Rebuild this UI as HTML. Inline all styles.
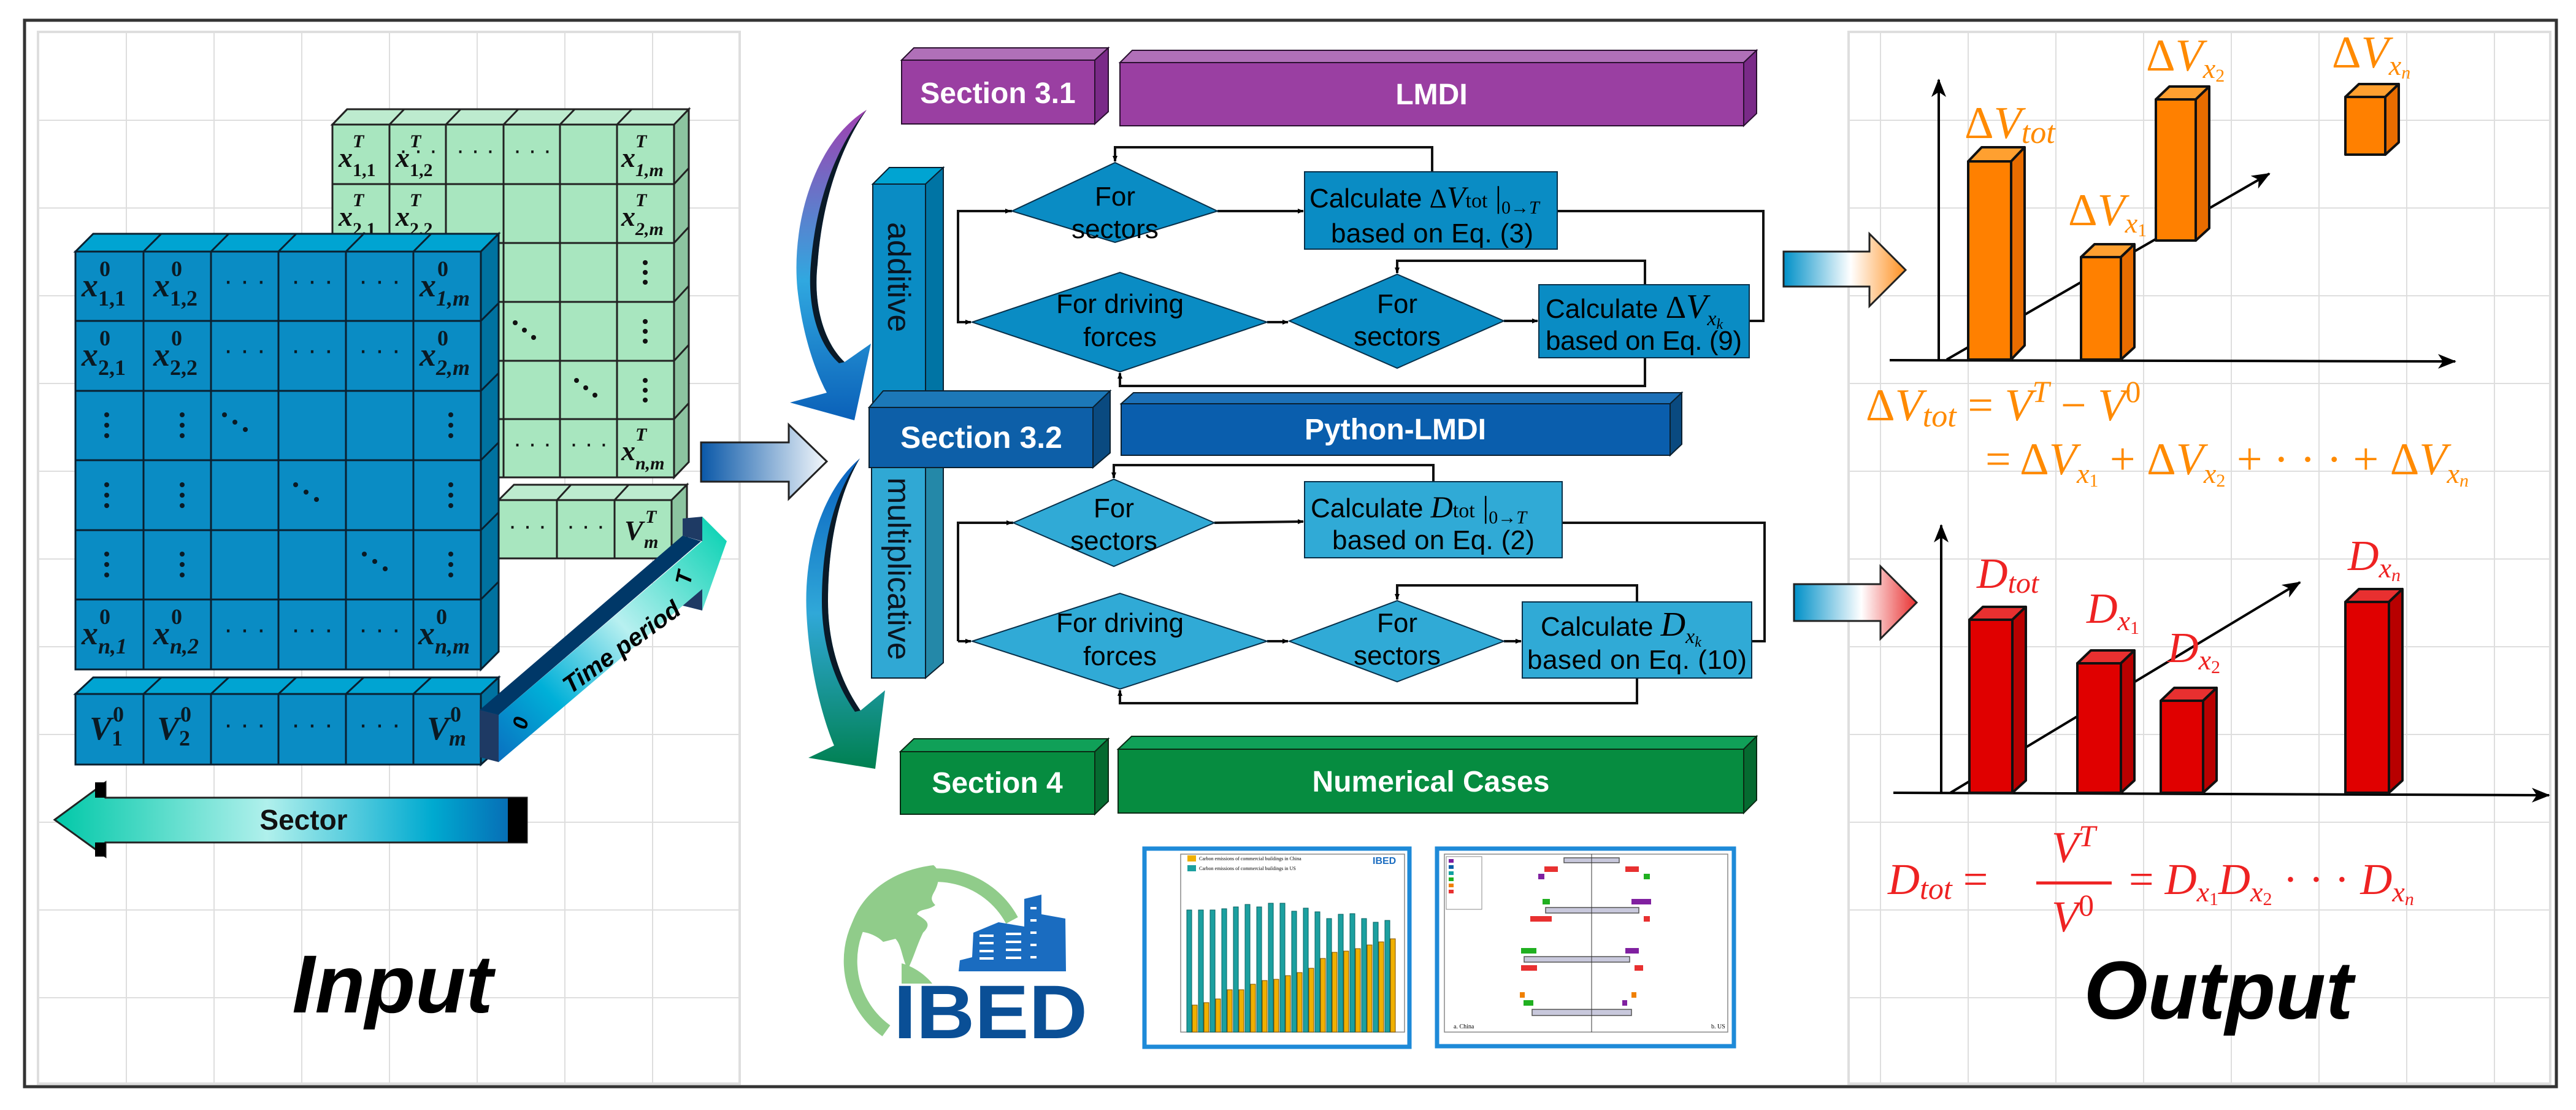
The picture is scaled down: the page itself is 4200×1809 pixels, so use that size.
<!DOCTYPE html>
<html><head><meta charset="utf-8">
<style>
html,body{margin:0;padding:0;background:#fff;}
svg{display:block;}
.m{font-family:"Liberation Serif",serif;font-style:italic;font-weight:bold;}
.up{font-style:normal;}
</style></head>
<body>
<svg width="4200" height="1809" viewBox="0 0 4200 1809" xmlns="http://www.w3.org/2000/svg">
<defs>
<pattern id="grid" x="62" y="52" width="143" height="143" patternUnits="userSpaceOnUse">
<path d="M0,0 H143 M0,0 V143" stroke="#dedede" stroke-width="4" fill="none"/>
</pattern>
<linearGradient id="gTime" x1="0" y1="1" x2="1" y2="0">
<stop offset="0" stop-color="#0a6fc0"/><stop offset="0.25" stop-color="#00b0d8"/><stop offset="0.55" stop-color="#b8f0f0"/><stop offset="1" stop-color="#00d0b0"/>
</linearGradient>
<linearGradient id="gSector" x1="0" y1="0" x2="1" y2="0">
<stop offset="0" stop-color="#00c8a8"/><stop offset="0.45" stop-color="#b0f0ec"/><stop offset="0.8" stop-color="#00aad0"/><stop offset="1" stop-color="#0860b0"/>
</linearGradient>
<linearGradient id="gIn" x1="0" y1="0" x2="1" y2="0">
<stop offset="0" stop-color="#0a58a8"/><stop offset="1" stop-color="#f4f8fc"/>
</linearGradient>
<linearGradient id="gOr" x1="0" y1="0" x2="1" y2="0">
<stop offset="0" stop-color="#0090c8"/><stop offset="0.55" stop-color="#ffffff"/><stop offset="1" stop-color="#ff9020"/>
</linearGradient>
<linearGradient id="gRd" x1="0" y1="0" x2="1" y2="0">
<stop offset="0" stop-color="#0090c8"/><stop offset="0.55" stop-color="#ffffff"/><stop offset="1" stop-color="#e83030"/>
</linearGradient>
<linearGradient id="gCurve1" x1="0" y1="0" x2="0" y2="1">
<stop offset="0" stop-color="#a040b0"/><stop offset="0.55" stop-color="#30a8e0"/><stop offset="1" stop-color="#0a60b8"/>
</linearGradient>
<linearGradient id="gCurve2" x1="0" y1="0" x2="0" y2="1">
<stop offset="0" stop-color="#0860c0"/><stop offset="0.5" stop-color="#30a8d8"/><stop offset="1" stop-color="#008050"/>
</linearGradient>
<marker id="ah" markerWidth="10" markerHeight="10" refX="9" refY="5" orient="auto" markerUnits="userSpaceOnUse">
<path d="M0,1 L10,5 L0,9 z" fill="#000"/>
</marker>
<marker id="ah2" markerWidth="30" markerHeight="24" refX="28" refY="12" orient="auto" markerUnits="userSpaceOnUse">
<path d="M0,0 L30,12 L0,24 L8,12 z" fill="#000"/>
</marker>
</defs>

<rect x="40" y="33" width="4128" height="1738" fill="#fff" stroke="#333" stroke-width="5"/>
<rect x="62" y="52" width="1144" height="1714" fill="url(#grid)" stroke="#dedede" stroke-width="4"/>
<rect x="3014" y="52" width="1144" height="1714" fill="url(#grid)" stroke="#dedede" stroke-width="4"/>

<!-- ===== GREEN MATRIX ===== -->
<g stroke="#222" stroke-width="3">
<polygon points="542,203 566,178 1123,178 1099,203" fill="#bdebcf"/>
<polygon points="1099,203 1123,178 1123,753 1099,778" fill="#8cc4a0"/>
<rect x="542" y="203" width="557" height="575" fill="#a8e6bf"/>
<path d="M635,203V778M727,203V778M821,203V778M913,203V778M1006,203V778M542,300H1099M542,396H1099M542,492H1099M542,588H1099M542,683H1099" fill="none"/>
<path d="M566,178L542,203M659,178L635,203M751,178L727,203M845,178L821,203M937,178L913,203M1030,178L1006,203M1123,274L1099,300M1123,370L1099,396M1123,466L1099,492M1123,562L1099,588M1123,657L1099,683" fill="none"/>
<polygon points="813,815 838,790 1120,790 1095,815" fill="#bdebcf"/>
<polygon points="1095,815 1120,790 1120,885 1095,910" fill="#8cc4a0"/>
<rect x="720" y="815" width="375" height="95" fill="#a8e6bf"/>
<path d="M908,815V910M1002,815V910M931,790L908,815M1025,790L1002,815" fill="none"/>
</g>
<g class="m" font-size="46" fill="#111" font-weight="normal">
<text x="552" y="272">x</text><text x="575" y="240" font-size="30">T</text><text x="575" y="287" font-size="30" class="up">1,1</text>
<text x="645" y="272">x</text><text x="668" y="240" font-size="30">T</text><text x="668" y="287" font-size="30" class="up">1,2</text>
<text x="1013" y="272">x</text><text x="1036" y="240" font-size="30">T</text><text x="1036" y="287" font-size="30">1,m</text>
<text x="552" y="368">x</text><text x="575" y="336" font-size="30">T</text><text x="575" y="383" font-size="30" class="up">2,1</text>
<text x="645" y="368">x</text><text x="668" y="336" font-size="30">T</text><text x="668" y="383" font-size="30" class="up">2,2</text>
<text x="1013" y="368">x</text><text x="1036" y="336" font-size="30">T</text><text x="1036" y="383" font-size="30">2,m</text>
<text x="1013" y="750">x</text><text x="1036" y="718" font-size="30">T</text><text x="1036" y="765" font-size="30">n,m</text>
<text x="1018" y="880">V</text><text x="1052" y="852" font-size="30">T</text><text x="1050" y="893" font-size="30">m</text>
</g>
<g fill="#111" font-family="Liberation Sans" font-size="40" text-anchor="middle">
<text x="682" y="258">· · ·</text><text x="775" y="258">· · ·</text><text x="868" y="258">· · ·</text>
<text x="868" y="736">· · ·</text><text x="960" y="736">· · ·</text>
<text x="860" y="870">· · ·</text><text x="955" y="870">· · ·</text>
</g>
<g fill="#111">
<circle cx="1052" cy="428" r="4"/><circle cx="1052" cy="444" r="4"/><circle cx="1052" cy="460" r="4"/>
<circle cx="1052" cy="524" r="4"/><circle cx="1052" cy="540" r="4"/><circle cx="1052" cy="556" r="4"/>
<circle cx="1052" cy="620" r="4"/><circle cx="1052" cy="636" r="4"/><circle cx="1052" cy="652" r="4"/>
<circle cx="840" cy="526" r="4"/><circle cx="855" cy="538" r="4"/><circle cx="870" cy="550" r="4"/>
<circle cx="940" cy="620" r="4"/><circle cx="955" cy="632" r="4"/><circle cx="970" cy="644" r="4"/>
</g>

<!-- ===== BLUE MATRIX ===== -->
<g stroke="#0a2030" stroke-width="3">
<polygon points="123,410 152,381 813,381 784,410" fill="#00a4d2"/>
<polygon points="784,410 813,381 813,1062 784,1091" fill="#0072a0"/>
<rect x="123" y="410" width="661" height="681" fill="#0a8cc4"/>
<path d="M234,410V1091M344,410V1091M454,410V1091M564,410V1091M674,410V1091M123,523H784M123,637H784M123,750H784M123,864H784M123,977H784" fill="none"/>
<path d="M263,381L234,410M373,381L344,410M483,381L454,410M593,381L564,410M703,381L674,410M813,494L784,523M813,608L784,637M813,721L784,750M813,835L784,864M813,948L784,977" fill="none"/>
<polygon points="123,1131 152,1104 813,1104 784,1131" fill="#00a4d2"/>
<polygon points="784,1131 813,1104 813,1220 784,1246" fill="#0072a0"/>
<rect x="123" y="1131" width="661" height="115" fill="#0a8cc4"/>
<path d="M234,1131V1246M344,1131V1246M454,1131V1246M564,1131V1246M674,1131V1246M263,1104L234,1131M373,1104L344,1131M483,1104L454,1131M593,1104L564,1131M703,1104L674,1131" fill="none"/>
</g>
<g class="m" font-size="54" fill="#0a1a24">
<text x="133" y="483">x</text><text x="162" y="450" font-size="36" class="up">0</text><text x="160" y="498" font-size="36" class="up">1,1</text>
<text x="250" y="483">x</text><text x="279" y="450" font-size="36" class="up">0</text><text x="277" y="498" font-size="36" class="up">1,2</text>
<text x="684" y="483">x</text><text x="713" y="450" font-size="36" class="up">0</text><text x="711" y="498" font-size="36">1,m</text>
<text x="133" y="596">x</text><text x="162" y="563" font-size="36" class="up">0</text><text x="160" y="611" font-size="36" class="up">2,1</text>
<text x="250" y="596">x</text><text x="279" y="563" font-size="36" class="up">0</text><text x="277" y="611" font-size="36" class="up">2,2</text>
<text x="684" y="596">x</text><text x="713" y="563" font-size="36" class="up">0</text><text x="711" y="611" font-size="36">2,m</text>
<text x="133" y="1050">x</text><text x="162" y="1017" font-size="36" class="up">0</text><text x="160" y="1065" font-size="36">n,1</text>
<text x="250" y="1050">x</text><text x="279" y="1017" font-size="36" class="up">0</text><text x="277" y="1065" font-size="36">n,2</text>
<text x="682" y="1050">x</text><text x="711" y="1017" font-size="36" class="up">0</text><text x="709" y="1065" font-size="36">n,m</text>
<text x="146" y="1205">V</text><text x="184" y="1176" font-size="36" class="up">0</text><text x="182" y="1215" font-size="36" class="up">1</text>
<text x="256" y="1205">V</text><text x="294" y="1176" font-size="36" class="up">0</text><text x="292" y="1215" font-size="36" class="up">2</text>
<text x="696" y="1205">V</text><text x="734" y="1176" font-size="36" class="up">0</text><text x="732" y="1215" font-size="36">m</text>
</g>
<g fill="#0a1a24" font-family="Liberation Sans" font-size="44" text-anchor="middle">
<text x="399" y="472">· · ·</text><text x="509" y="472">· · ·</text><text x="619" y="472">· · ·</text>
<text x="399" y="585">· · ·</text><text x="509" y="585">· · ·</text><text x="619" y="585">· · ·</text>
<text x="399" y="1040">· · ·</text><text x="509" y="1040">· · ·</text><text x="619" y="1040">· · ·</text>
<text x="399" y="1195">· · ·</text><text x="509" y="1195">· · ·</text><text x="619" y="1195">· · ·</text>
</g>
<g fill="#0a1a24">
<circle cx="174" cy="676" r="4"/><circle cx="174" cy="693" r="4"/><circle cx="174" cy="710" r="4"/>
<circle cx="174" cy="790" r="4"/><circle cx="174" cy="807" r="4"/><circle cx="174" cy="824" r="4"/>
<circle cx="174" cy="903" r="4"/><circle cx="174" cy="920" r="4"/><circle cx="174" cy="937" r="4"/>
<circle cx="297" cy="676" r="4"/><circle cx="297" cy="693" r="4"/><circle cx="297" cy="710" r="4"/>
<circle cx="297" cy="790" r="4"/><circle cx="297" cy="807" r="4"/><circle cx="297" cy="824" r="4"/>
<circle cx="297" cy="903" r="4"/><circle cx="297" cy="920" r="4"/><circle cx="297" cy="937" r="4"/>
<circle cx="735" cy="676" r="4"/><circle cx="735" cy="693" r="4"/><circle cx="735" cy="710" r="4"/>
<circle cx="735" cy="790" r="4"/><circle cx="735" cy="807" r="4"/><circle cx="735" cy="824" r="4"/>
<circle cx="735" cy="903" r="4"/><circle cx="735" cy="920" r="4"/><circle cx="735" cy="937" r="4"/>
<circle cx="366" cy="676" r="4"/><circle cx="383" cy="688" r="4"/><circle cx="400" cy="700" r="4"/>
<circle cx="482" cy="790" r="4"/><circle cx="499" cy="802" r="4"/><circle cx="516" cy="814" r="4"/>
<circle cx="594" cy="903" r="4"/><circle cx="611" cy="915" r="4"/><circle cx="628" cy="927" r="4"/>
</g>

<!-- Time period arrow -->
<polygon points="782,1157 813,1165 813,1242 782,1234" fill="#1e3a64"/>
<polygon points="782,1157 1113,873 1143,882 813,1165" fill="#003868"/>
<polygon points="1113,845 1145,842 1145,882 1113,873" fill="#1e3a64"/>
<polygon points="1113,987 1145,995 1145,940 1113,960" fill="#1e3a64"/>
<polygon points="813,1165 1145,882 1145,842 1185,882 1145,995 1145,960 813,1242" fill="url(#gTime)"/>
<g font-family="Liberation Sans" font-style="italic" font-weight="bold" fill="#000">
<text x="0" y="0" font-size="34" transform="translate(858,1190) rotate(-78)">0</text>
<text x="0" y="0" font-size="40" transform="translate(930,1132) rotate(-36)">Time period</text>
<text x="0" y="0" font-size="36" transform="translate(1125,955) rotate(-78)">T</text>
</g>

<!-- Sector arrow -->
<polygon points="89,1336 172,1275 172,1300 859,1300 859,1373 172,1373 172,1396" fill="url(#gSector)" stroke="#222" stroke-width="3"/>
<rect x="155" y="1275" width="17" height="25" fill="#000"/>
<rect x="155" y="1373" width="17" height="23" fill="#000"/>
<rect x="828" y="1300" width="31" height="73" fill="#000"/>
<text x="495" y="1352" font-family="Liberation Sans" font-weight="bold" font-size="46" text-anchor="middle" fill="#111">Sector</text>

<text x="640" y="1650" font-family="Liberation Sans" font-style="italic" font-weight="bold" font-size="134" text-anchor="middle" fill="#000">Input</text>

<polygon points="1143,721 1286,721 1286,692 1348,752 1286,813 1286,785 1143,785" fill="url(#gIn)" stroke="#222" stroke-width="3"/>

<!-- curved arrows -->
<path d="M1413,179 C1330,230 1290,360 1300,470 C1310,560 1335,615 1348,640 L1288,656 L1393,685 L1420,560 L1377,590 C1345,560 1325,500 1333,430 C1340,330 1370,240 1413,179 Z" fill="url(#gCurve1)"/>
<path d="M1413,179 C1370,240 1340,330 1333,430 C1325,500 1345,560 1377,590 L1368,592 C1333,560 1316,500 1322,430 C1330,330 1362,240 1413,179 Z" fill="#0a1a28"/>
<path d="M1402,747 C1340,800 1310,900 1315,1000 C1320,1100 1345,1180 1360,1215 L1318,1235 L1427,1253 L1443,1125 L1403,1158 C1370,1110 1350,1050 1350,980 C1350,880 1370,800 1402,747 Z" fill="url(#gCurve2)"/>
<path d="M1402,747 C1370,800 1350,880 1350,980 C1350,1050 1370,1110 1403,1158 L1394,1160 C1360,1110 1340,1050 1340,980 C1340,880 1362,800 1402,747 Z" fill="#0a1a28"/>

<!-- Section boxes -->
<g stroke="#2a1030" stroke-width="2">
<polygon points="1470,98 1490,78 1807,78 1785,98" fill="#b070b8"/>
<polygon points="1785,98 1807,78 1807,182 1785,202" fill="#7a2a88"/>
<rect x="1470" y="98" width="315" height="104" fill="#9a3fa2"/>
<polygon points="1826,102 1846,82 2864,82 2843,102" fill="#b070b8"/>
<polygon points="2843,102 2864,82 2864,185 2843,205" fill="#7a2a88"/>
<rect x="1826" y="102" width="1017" height="103" fill="#9a3fa2"/>
</g>
<text x="1627" y="168" font-family="Liberation Sans" font-weight="bold" font-size="48" fill="#fff" text-anchor="middle">Section 3.1</text>
<text x="2334" y="170" font-family="Liberation Sans" font-weight="bold" font-size="48" fill="#fff" text-anchor="middle">LMDI</text>

<g stroke="#0a2030" stroke-width="2">
<polygon points="1423,300 1450,273 1538,273 1509,300" fill="#00a4d2"/>
<polygon points="1509,300 1538,273 1538,640 1509,664" fill="#0074a4"/>
<rect x="1423" y="300" width="86" height="364" fill="#0a8cc4"/>
<polygon points="1509,762 1538,740 1538,1080 1509,1105" fill="#2488a8"/>
<rect x="1421" y="762" width="88" height="343" fill="#30a8d4"/>
</g>
<text x="0" y="0" font-family="Liberation Sans" font-size="52" fill="#0a1420" transform="translate(1448,362) rotate(90)">additive</text>
<text x="0" y="0" font-family="Liberation Sans" font-size="52" fill="#0a1420" transform="translate(1448,778) rotate(90)">multiplicative</text>

<g stroke="#0a2030" stroke-width="2">
<polygon points="1417,664 1440,637 1810,637 1782,664" fill="#1c78b8"/>
<polygon points="1782,664 1810,637 1810,738 1782,762" fill="#0a4a80"/>
<rect x="1417" y="664" width="365" height="98" fill="#0d5fa8"/>
<polygon points="1828,658 1848,640 2742,640 2723,658" fill="#1c70b8"/>
<polygon points="2723,658 2742,640 2742,724 2723,742" fill="#0a4a80"/>
<rect x="1828" y="658" width="895" height="84" fill="#0a5ead"/>
</g>
<text x="1600" y="730" font-family="Liberation Sans" font-weight="bold" font-size="50" fill="#fff" text-anchor="middle">Section 3.2</text>
<text x="2275" y="716" font-family="Liberation Sans" font-weight="bold" font-size="48" fill="#fff" text-anchor="middle">Python-LMDI</text>

<g stroke="#0a2a14" stroke-width="2">
<polygon points="1468,1225 1490,1204 1807,1204 1785,1225" fill="#10a058"/>
<polygon points="1785,1225 1807,1204 1807,1306 1785,1327" fill="#056a30"/>
<rect x="1468" y="1225" width="317" height="102" fill="#068c40"/>
<polygon points="1823,1221 1845,1200 2864,1200 2843,1221" fill="#10a058"/>
<polygon points="2843,1221 2864,1200 2864,1304 2843,1325" fill="#056a30"/>
<rect x="1823" y="1221" width="1020" height="104" fill="#068c40"/>
</g>
<text x="1626" y="1292" font-family="Liberation Sans" font-weight="bold" font-size="48" fill="#fff" text-anchor="middle">Section 4</text>
<text x="2333" y="1290" font-family="Liberation Sans" font-weight="bold" font-size="48" fill="#fff" text-anchor="middle">Numerical Cases</text>

<!-- upper flowchart -->
<g stroke="#111" stroke-width="4" fill="none">
<polyline points="2335,280 2335,240 1818,240 1818,263" marker-end="url(#ah)"/>
<line x1="1985" y1="344" x2="2125" y2="344" marker-end="url(#ah)"/>
<polyline points="1650,344 1562,344 1562,525 1583,525" />
<line x1="1562" y1="344" x2="1648" y2="344" marker-end="url(#ah)"/>
<line x1="1562" y1="525" x2="1583" y2="525" marker-end="url(#ah)"/>
<line x1="2066" y1="525" x2="2100" y2="525" marker-end="url(#ah)"/>
<line x1="2452" y1="523" x2="2507" y2="523" marker-end="url(#ah)"/>
<polyline points="2539,344 2875,344 2875,523 2852,523"/>
<polyline points="2682,464 2682,425 2278,425 2278,445" marker-end="url(#ah)"/>
<polyline points="2682,583 2682,629 1826,629 1826,608" marker-end="url(#ah)"/>
</g>
<g fill="#0a8cc4" stroke="#08304a" stroke-width="2">
<polygon points="1650,344 1818,265 1985,344 1818,395"/>
<rect x="2127" y="280" width="412" height="126"/>
<polygon points="1585,525 1826,444 2066,525 1826,606"/>
<polygon points="2102,523 2278,447 2452,523 2278,600"/>
<rect x="2509" y="464" width="343" height="119"/>
</g>
<g font-family="Liberation Sans" font-size="44" fill="#000" text-anchor="middle">
<text x="1818" y="335">For</text><text x="1818" y="388">sectors</text>
<text x="1826" y="510">For driving</text><text x="1826" y="564">forces</text>
<text x="2278" y="510">For</text><text x="2278" y="563">sectors</text>
<text x="2335" y="395" textLength="330">based on Eq. (3)</text>
<text x="2680" y="570" textLength="320">based on Eq. (9)</text>
</g>
<g font-family="Liberation Sans" font-size="44" fill="#000">
<text x="2135" y="338">Calculate <tspan font-family="Liberation Serif">Δ</tspan><tspan font-family="Liberation Serif" font-style="italic" font-size="50">V</tspan><tspan font-family="Liberation Serif" font-size="34">tot</tspan><tspan font-family="Liberation Serif" font-size="50"> |</tspan><tspan font-family="Liberation Serif" font-size="30" dy="10">0→<tspan font-style="italic">T</tspan></tspan></text>
<text x="2520" y="518">Calculate <tspan font-family="Liberation Serif" font-size="52">Δ</tspan><tspan font-family="Liberation Serif" font-style="italic" font-size="56">V</tspan><tspan font-family="Liberation Serif" font-style="italic" font-size="34" dy="12">x<tspan font-size="24" dy="6">k</tspan></tspan></text>
</g>

<!-- lower flowchart -->
<g stroke="#111" stroke-width="4" fill="none">
<polyline points="2337,785 2337,758 1816,758 1816,779" marker-end="url(#ah)"/>
<line x1="1980" y1="852" x2="2125" y2="850" marker-end="url(#ah)"/>
<polyline points="1652,852 1562,852 1562,1045"/>
<line x1="1562" y1="852" x2="1650" y2="852" marker-end="url(#ah)"/>
<line x1="1562" y1="1045" x2="1583" y2="1045" marker-end="url(#ah)"/>
<line x1="2066" y1="1045" x2="2100" y2="1045" marker-end="url(#ah)"/>
<line x1="2452" y1="1045" x2="2480" y2="1045" marker-end="url(#ah)"/>
<polyline points="2547,852 2877,852 2877,1045 2856,1045"/>
<polyline points="2669,981 2669,954 2278,954 2278,977" marker-end="url(#ah)"/>
<polyline points="2669,1105 2669,1146 1826,1146 1826,1125" marker-end="url(#ah)"/>
</g>
<g fill="#30aad6" stroke="#08304a" stroke-width="2">
<polygon points="1652,852 1816,781 1980,852 1816,923"/>
<rect x="2127" y="785" width="420" height="124"/>
<polygon points="1585,1045 1826,967 2066,1045 1826,1123"/>
<polygon points="2102,1045 2278,979 2452,1045 2278,1111"/>
<rect x="2482" y="981" width="374" height="124"/>
</g>
<g font-family="Liberation Sans" font-size="44" fill="#000" text-anchor="middle">
<text x="1816" y="843">For</text><text x="1816" y="896">sectors</text>
<text x="1826" y="1030">For driving</text><text x="1826" y="1084">forces</text>
<text x="2278" y="1030">For</text><text x="2278" y="1083">sectors</text>
<text x="2337" y="895" textLength="330">based on Eq. (2)</text>
<text x="2669" y="1090" textLength="358">based on Eq. (10)</text>
</g>
<g font-family="Liberation Sans" font-size="44" fill="#000">
<text x="2137" y="843">Calculate <tspan font-family="Liberation Serif" font-style="italic" font-size="50">D</tspan><tspan font-family="Liberation Serif" font-size="34">tot</tspan><tspan font-family="Liberation Serif" font-size="50"> |</tspan><tspan font-family="Liberation Serif" font-size="30" dy="10">0→<tspan font-style="italic">T</tspan></tspan></text>
<text x="2512" y="1036">Calculate  <tspan font-family="Liberation Serif" font-style="italic" font-size="56">D</tspan><tspan font-family="Liberation Serif" font-style="italic" font-size="34" dy="12">x<tspan font-size="24" dy="6">k</tspan></tspan></text>
</g>

<!-- IBED logo -->
<g>
<path d="M1650,1500 A140,140 0 1 0 1445,1680" fill="none" stroke="#90cc8a" stroke-width="22"/>
<path d="M1522,1410 C1535,1420 1530,1440 1525,1450 C1520,1460 1515,1465 1525,1475 C1512,1485 1500,1480 1495,1490 C1510,1500 1520,1505 1505,1520 C1495,1540 1490,1560 1480,1580 C1470,1560 1470,1540 1460,1530 L1440,1535 C1425,1520 1400,1515 1385,1520 C1395,1470 1440,1420 1522,1410 Z" fill="#90cc8a"/>
<path d="M1470,1570 C1490,1575 1510,1590 1520,1603 L1470,1603 Z" fill="#90cc8a"/>
<polygon points="1563,1583 1565,1565 1585,1560 1587,1520 1628,1503 1670,1510 1670,1465 1698,1458 1698,1490 1737,1497 1738,1583" fill="#1a6cc0"/>
<g stroke="#fff" stroke-width="4">
<path d="M1597,1525H1620M1597,1537H1620M1597,1550H1620M1597,1562H1620M1640,1522H1665M1640,1535H1665M1640,1548H1665M1640,1561H1665M1680,1480H1690M1680,1500H1690M1680,1520H1690M1680,1540H1690M1680,1560H1690"/>
</g>
<text x="1457" y="1692" font-family="Liberation Sans" font-weight="bold" font-size="124" fill="#0a4f96" textLength="316" lengthAdjust="spacingAndGlyphs">IBED</text>
</g>

<!-- chart 1 -->
<g>
<rect x="1866" y="1383" width="432" height="323" fill="#fff" stroke="#1e8ad8" stroke-width="7"/>
<rect x="1925" y="1392" width="365" height="290" fill="none" stroke="#888" stroke-width="1.5"/>
<g fill="#1ca0a0" stroke="#046060" stroke-width="1">
<rect x="1935" y="1483" width="8" height="199"/><rect x="1954" y="1483" width="8" height="199"/><rect x="1973" y="1483" width="8" height="199"/><rect x="1992" y="1481" width="8" height="201"/><rect x="2011" y="1478" width="8" height="204"/><rect x="2030" y="1474" width="8" height="208"/><rect x="2049" y="1478" width="8" height="204"/><rect x="2068" y="1472" width="8" height="210"/><rect x="2087" y="1472" width="8" height="210"/><rect x="2106" y="1485" width="8" height="197"/><rect x="2125" y="1480" width="8" height="202"/><rect x="2144" y="1486" width="8" height="196"/><rect x="2163" y="1497" width="8" height="185"/><rect x="2182" y="1490" width="8" height="192"/><rect x="2201" y="1489" width="8" height="193"/><rect x="2220" y="1497" width="8" height="185"/><rect x="2239" y="1503" width="8" height="179"/><rect x="2258" y="1500" width="8" height="182"/>
</g>
<g fill="#f0b000" stroke="#805000" stroke-width="1">
<rect x="1944" y="1638" width="8" height="44"/><rect x="1963" y="1634" width="8" height="48"/><rect x="1982" y="1628" width="8" height="54"/><rect x="2001" y="1613" width="8" height="69"/><rect x="2020" y="1613" width="8" height="69"/><rect x="2039" y="1604" width="8" height="78"/><rect x="2058" y="1598" width="8" height="84"/><rect x="2077" y="1596" width="8" height="86"/><rect x="2096" y="1590" width="8" height="92"/><rect x="2115" y="1585" width="8" height="97"/><rect x="2134" y="1578" width="8" height="104"/><rect x="2153" y="1562" width="8" height="120"/><rect x="2172" y="1552" width="8" height="130"/><rect x="2191" y="1550" width="8" height="132"/><rect x="2210" y="1546" width="8" height="136"/><rect x="2229" y="1540" width="8" height="142"/><rect x="2248" y="1535" width="8" height="147"/><rect x="2267" y="1530" width="8" height="152"/>
</g>
<rect x="1936" y="1394" width="14" height="10" fill="#f0b000"/><rect x="1936" y="1410" width="14" height="10" fill="#1ca0a0"/>
<text x="1955" y="1402" font-family="Liberation Serif" font-size="8" fill="#000">Carbon emissions of commercial buildings in China</text>
<text x="1955" y="1418" font-family="Liberation Serif" font-size="8" fill="#000">Carbon emissions of commercial buildings in US</text>
<text x="2238" y="1408" font-family="Liberation Sans" font-weight="bold" font-size="16" fill="#1a6cc0">IBED</text>
</g>

<!-- chart 2 -->
<g>
<rect x="2343" y="1383" width="484" height="322" fill="#fff" stroke="#1e8ad8" stroke-width="7"/>
<rect x="2355" y="1392" width="462" height="290" fill="none" stroke="#888" stroke-width="1.5"/>
<rect x="2358" y="1396" width="58" height="86" fill="#fff" stroke="#888" stroke-width="1"/>
<g fill="#c8c8dc" stroke="#555" stroke-width="1.5">
<rect x="2550" y="1398" width="90" height="8"/><rect x="2520" y="1479" width="152" height="9"/><rect x="2485" y="1559" width="172" height="9"/><rect x="2498" y="1645" width="162" height="10"/>
</g>
<g>
<rect x="2518" y="1412" width="22" height="9" fill="#e83030"/><rect x="2650" y="1412" width="22" height="9" fill="#e83030"/>
<rect x="2508" y="1424" width="10" height="9" fill="#8020a0"/><rect x="2680" y="1424" width="10" height="9" fill="#20b020"/>
<rect x="2515" y="1465" width="12" height="9" fill="#20b020"/><rect x="2660" y="1465" width="32" height="9" fill="#8020a0"/>
<rect x="2495" y="1493" width="35" height="9" fill="#e83030"/><rect x="2680" y="1493" width="10" height="9" fill="#e83030"/>
<rect x="2480" y="1545" width="25" height="9" fill="#20b020"/><rect x="2650" y="1545" width="22" height="9" fill="#8020a0"/>
<rect x="2480" y="1573" width="26" height="9" fill="#e83030"/><rect x="2665" y="1573" width="14" height="9" fill="#e83030"/>
<rect x="2484" y="1630" width="16" height="9" fill="#20b020"/><rect x="2645" y="1630" width="8" height="9" fill="#8020a0"/>
<rect x="2478" y="1617" width="8" height="9" fill="#f08000"/><rect x="2660" y="1617" width="8" height="9" fill="#f08000"/>
<rect x="2362" y="1400" width="8" height="6" fill="#8020a0"/><rect x="2362" y="1410" width="8" height="6" fill="#0a60a8"/><rect x="2362" y="1420" width="8" height="6" fill="#10a0a0"/><rect x="2362" y="1430" width="8" height="6" fill="#20b020"/><rect x="2362" y="1440" width="8" height="6" fill="#f08000"/><rect x="2362" y="1450" width="8" height="6" fill="#e83030"/>
</g>
<line x1="2595" y1="1392" x2="2595" y2="1682" stroke="#333" stroke-width="1"/>
<text x="2370" y="1676" font-family="Liberation Serif" font-size="10" fill="#000">a. China</text>
<text x="2790" y="1676" font-family="Liberation Serif" font-size="10" fill="#000">b. US</text>
</g>

<!-- OUTPUT PANEL -->
<polygon points="2908,410 3048,410 3048,381 3107,440 3048,499 3048,467 2908,467" fill="url(#gOr)" stroke="#222" stroke-width="3"/>
<polygon points="2925,952 3066,952 3066,923 3125,982 3066,1041 3066,1012 2925,1012" fill="url(#gRd)" stroke="#222" stroke-width="3"/>

<g stroke="#000" stroke-width="4" fill="none">
<line x1="3161" y1="586" x2="3161" y2="130" marker-end="url(#ah2)"/>
<line x1="3081" y1="587" x2="4003" y2="589" marker-end="url(#ah2)"/>
<line x1="3174" y1="586" x2="3700" y2="283" marker-end="url(#ah2)"/>
</g>
<g stroke="#111" stroke-width="4" stroke-linejoin="round">
<polygon points="3209,263 3231,240 3301,240 3279,263" fill="#ffa030"/><polygon points="3279,263 3301,240 3301,563 3279,586" fill="#e86c00"/><rect x="3209" y="263" width="70" height="323" fill="#ff8000"/>
<polygon points="3393,419 3415,398 3480,398 3458,419" fill="#ffa030"/><polygon points="3458,419 3480,398 3480,566 3458,586" fill="#e86c00"/><rect x="3393" y="419" width="65" height="167" fill="#ff8000"/>
<polygon points="3515,162 3537,141 3602,141 3580,162" fill="#ffa030"/><polygon points="3580,162 3602,141 3602,372 3580,392" fill="#e86c00"/><rect x="3515" y="162" width="65" height="230" fill="#ff8000"/>
<polygon points="3824,158 3846,137 3911,137 3889,158" fill="#ffa030"/><polygon points="3889,158 3911,137 3911,232 3889,252" fill="#e86c00"/><rect x="3824" y="158" width="65" height="94" fill="#ff8000"/>
</g>
<g font-family="Liberation Serif" fill="#ff8a00" font-size="74">
<text x="3203" y="225">Δ<tspan font-style="italic">V</tspan><tspan font-style="italic" font-size="52" dy="8">tot</tspan></text>
<text x="3372" y="367">Δ<tspan font-style="italic">V</tspan><tspan font-style="italic" font-size="46" dy="12">x</tspan><tspan font-size="30" dy="6">1</tspan></text>
<text x="3499" y="115">Δ<tspan font-style="italic">V</tspan><tspan font-style="italic" font-size="46" dy="12">x</tspan><tspan font-size="30" dy="6">2</tspan></text>
<text x="3802" y="110">Δ<tspan font-style="italic">V</tspan><tspan font-style="italic" font-size="46" dy="12">x</tspan><tspan font-style="italic" font-size="30" dy="6">n</tspan></text>
</g>
<g font-family="Liberation Serif" fill="#ff8a00" font-size="74">
<text x="3042" y="685">Δ<tspan font-style="italic">V</tspan><tspan font-style="italic" font-size="52" dy="10">tot</tspan><tspan dy="-10"> = </tspan><tspan font-style="italic">V</tspan><tspan font-style="italic" font-size="50" dy="-30">T</tspan><tspan dy="30"> − </tspan><tspan font-style="italic">V</tspan><tspan font-size="50" dy="-30">0</tspan></text>
<text x="3237" y="773">= Δ<tspan font-style="italic">V</tspan><tspan font-style="italic" font-size="46" dy="14">x</tspan><tspan font-size="30" dy="6">1</tspan><tspan dy="-20"> + Δ</tspan><tspan font-style="italic">V</tspan><tspan font-style="italic" font-size="46" dy="14">x</tspan><tspan font-size="30" dy="6">2</tspan><tspan dy="-20"> + · · · + Δ</tspan><tspan font-style="italic">V</tspan><tspan font-style="italic" font-size="46" dy="14">x</tspan><tspan font-style="italic" font-size="30" dy="6">n</tspan></text>
</g>

<g stroke="#000" stroke-width="4" fill="none">
<line x1="3165" y1="1292" x2="3165" y2="856" marker-end="url(#ah2)"/>
<line x1="3087" y1="1292" x2="4156" y2="1296" marker-end="url(#ah2)"/>
<line x1="3180" y1="1292" x2="3750" y2="949" marker-end="url(#ah2)"/>
</g>
<g stroke="#111" stroke-width="4" stroke-linejoin="round">
<polygon points="3211,1010 3233,989 3303,989 3281,1010" fill="#e83030"/><polygon points="3281,1010 3303,989 3303,1272 3281,1292" fill="#b80000"/><rect x="3211" y="1010" width="70" height="282" fill="#e00000"/>
<polygon points="3387,1081 3409,1060 3480,1060 3458,1081" fill="#e83030"/><polygon points="3458,1081 3480,1060 3480,1272 3458,1292" fill="#b80000"/><rect x="3387" y="1081" width="71" height="211" fill="#e00000"/>
<polygon points="3523,1142 3545,1121 3614,1121 3592,1142" fill="#e83030"/><polygon points="3592,1142 3614,1121 3614,1272 3592,1292" fill="#b80000"/><rect x="3523" y="1142" width="69" height="150" fill="#e00000"/>
<polygon points="3824,981 3846,960 3917,960 3895,981" fill="#e83030"/><polygon points="3895,981 3917,960 3917,1272 3895,1292" fill="#b80000"/><rect x="3824" y="981" width="71" height="311" fill="#e00000"/>
</g>
<g font-family="Liberation Serif" fill="#ee2222" font-size="70" font-style="italic">
<text x="3223" y="958">D<tspan font-size="48" dy="8">tot</tspan></text>
<text x="3402" y="1015">D<tspan font-size="46" dy="12">x</tspan><tspan font-style="normal" font-size="30" dy="6">1</tspan></text>
<text x="3534" y="1079">D<tspan font-size="46" dy="12">x</tspan><tspan font-style="normal" font-size="30" dy="6">2</tspan></text>
<text x="3828" y="929">D<tspan font-size="46" dy="12">x</tspan><tspan font-size="30" dy="6">n</tspan></text>
</g>
<g font-family="Liberation Serif" fill="#ee2222" font-size="72">
<text x="3078" y="1457"><tspan font-style="italic">D</tspan><tspan font-style="italic" font-size="50" dy="8">tot</tspan><tspan dy="-8"> =</tspan></text>
<line x1="3320" y1="1439" x2="3443" y2="1439" stroke="#ee2222" stroke-width="5"/>
<text x="3345" y="1405"><tspan font-style="italic">V</tspan><tspan font-style="italic" font-size="50" dy="-26">T</tspan></text>
<text x="3345" y="1518"><tspan font-style="italic">V</tspan><tspan font-size="50" dy="-26">0</tspan></text>
<text x="3471" y="1457">= <tspan font-style="italic">D</tspan><tspan font-style="italic" font-size="46" dy="12">x</tspan><tspan font-size="30" dy="6">1</tspan><tspan font-style="italic" dy="-18">D</tspan><tspan font-style="italic" font-size="46" dy="12">x</tspan><tspan font-size="30" dy="6">2</tspan><tspan dy="-18"> · · · </tspan><tspan font-style="italic">D</tspan><tspan font-style="italic" font-size="46" dy="12">x</tspan><tspan font-style="italic" font-size="30" dy="6">n</tspan></text>
</g>

<text x="3617" y="1660" font-family="Liberation Sans" font-style="italic" font-weight="bold" font-size="134" text-anchor="middle" fill="#000">Output</text>
</svg>
</body></html>
